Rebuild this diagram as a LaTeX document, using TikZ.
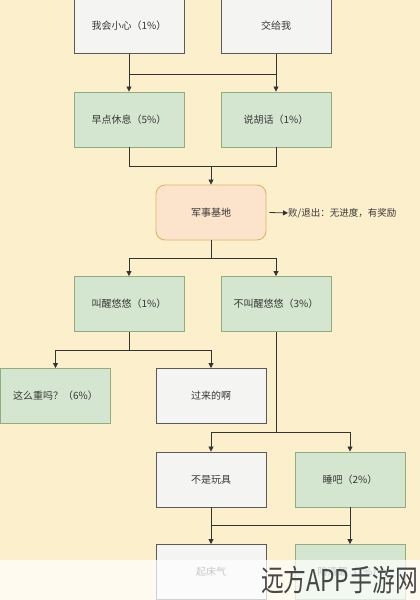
\documentclass[tikz,border=0pt]{standalone}
\usepackage{fontspec}
\setmainfont{Noto Sans CJK SC}
\newfontfamily\wmfont[FakeStretch=0.76]{Noto Sans CJK SC}
\usetikzlibrary{arrows.meta}
\definecolor{bgc}{HTML}{FCEFCC}
\definecolor{wfill}{HTML}{F4F4F2}
\definecolor{wdraw}{HTML}{5A5A5A}
\definecolor{gfill}{HTML}{D4E6CF}
\definecolor{gdraw}{HTML}{8FAE7E}
\definecolor{pfill}{HTML}{FCE3CB}
\definecolor{pdraw}{HTML}{E0B468}
\definecolor{lnc}{HTML}{333333}
\tikzset{
  box/.style={minimum width=110pt,minimum height=55pt,inner sep=0pt,line width=0.9pt,
    font=\fontsize{10}{12}\selectfont,text=black!78},
  wbox/.style={box,fill=wfill,draw=wdraw},
  gbox/.style={box,fill=gfill,draw=gdraw},
  pbox/.style={box,fill=pfill,draw=pdraw,rounded corners=9pt},
  ln/.style={draw=lnc,line width=0.8pt},
  arr/.style={ln,-{Triangle[length=5pt,width=5pt]}}
}
\begin{document}
\begin{tikzpicture}[x=1pt,y=-1pt]
\fill[bgc] (0,0) rectangle (420,600);
\useasboundingbox (0,0) rectangle (420,600);
% row 1
\node[wbox] (a1) at (129,26) {我会小心（1\%）};
\node[wbox] (a2) at (276,26) {交给我};
% row 2
\node[gbox] (b1) at (129,119.5) {早点休息（5\%）};
\node[gbox] (b2) at (276,119.5) {说胡话（1\%）};
% base
\node[pbox] (c) at (211,212.5) {军事基地};
\node[anchor=west,font=\fontsize{9.5}{11}\selectfont,text=black!78,inner sep=0pt] (ct) at (288,213) {败/退出：无进度，有奖励};
% row 4
\node[gbox] (d1) at (129,304) {叫醒悠悠（1\%）};
\node[gbox] (d2) at (276,304) {不叫醒悠悠（3\%）};
% row 5
\node[gbox] (e1) at (55.5,396) {这么重吗？（6\%）};
\node[wbox] (e2) at (211,396) {过来的啊};
% row 6
\node[wbox] (f1) at (211,479.5) {不是玩具};
\node[gbox] (f2) at (350,479.5) {睡吧（2\%）};
% row 7
\node[wbox] (g1) at (211,572) {起床气};
\node[gbox] (g2) at (350,572) {陪清醒（1\%）};
% connectors
\coordinate (j1) at (129,74);
\coordinate (j2) at (276,74);
\draw[ln] (a1.south) -- (j1) -- (j2);
\draw[ln] (a2.south) -- (j2);
\draw[arr] (j1) -- (b1.north);
\draw[arr] (j2) -- (b2.north);
\coordinate (k1) at (129,166);
\coordinate (k2) at (276,166);
\coordinate (k0) at (211,166);
\draw[ln] (b1.south) -- (k1) -- (k2) -- (b2.south);
\draw[arr] (k0) -- (c.north);
\draw[arr] (c.east) ++(3,0) -- (ct.west);
\coordinate (m0) at (211,258);
\coordinate (m1) at (129,258);
\coordinate (m2) at (276,258);
\draw[ln] (c.south) -- (m0);
\draw[ln] (m1) -- (m2);
\draw[arr] (m1) -- (d1.north);
\draw[arr] (m2) -- (d2.north);
\coordinate (n0) at (129,350);
\coordinate (n1) at (55.5,350);
\coordinate (n2) at (211,350);
\draw[ln] (d1.south) -- (n0);
\draw[ln] (n1) -- (n2);
\draw[arr] (n1) -- (e1.north);
\draw[arr] (n2) -- (e2.north);
\coordinate (p0) at (276,432);
\coordinate (p1) at (211,432);
\coordinate (p2) at (350,432);
\draw[ln] (d2.south) -- (p0);
\draw[ln] (p1) -- (p2);
\draw[arr] (p1) -- (f1.north);
\draw[arr] (p2) -- (f2.north);
\coordinate (q1) at (211,525);
\coordinate (q2) at (350,525);
\draw[ln] (f1.south) -- (q1) -- (q2) -- (f2.south);
\draw[arr] (q1) -- (g1.north);
\draw[arr] (q2) -- (g2.north);
% bottom band
\fill[white,opacity=0.72] (0,560) rectangle (420,600);
\node[anchor=east,inner sep=0pt,font=\wmfont\fontsize{30}{32}\selectfont,text=black!72] (wm) at (418,580) {远方APP手游网};
\end{tikzpicture}
\end{document}
